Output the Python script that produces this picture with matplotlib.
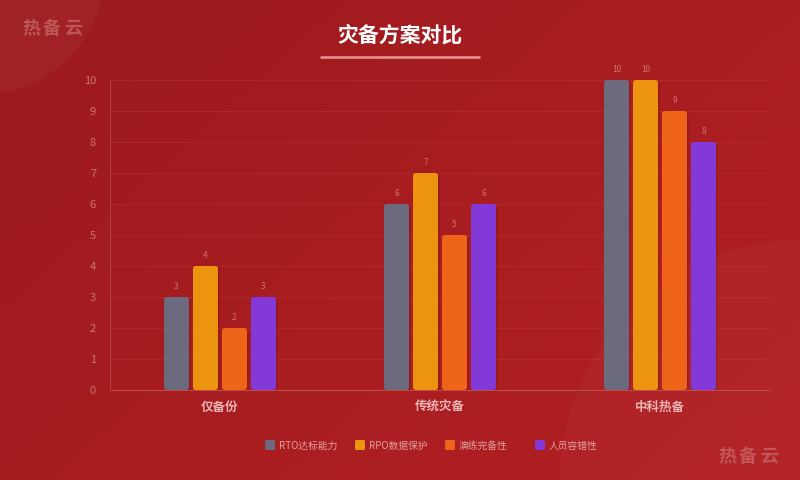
import numpy as np
import matplotlib.pyplot as plt
from matplotlib.patches import FancyBboxPatch, Circle

plt.rcParams['font.family'] = ['Noto Sans CJK SC', 'DejaVu Sans']

# Data
categories = ["仅备份", "传统灾备", "中科热备"]
series_names = ["RTO达标能力", "RPO数据保护", "演练完备性", "人员容错性"]
rto = [3, 6, 10]
rpo = [4, 7, 10]
drill = [2, 5, 9]
staff = [3, 6, 8]
series = [rto, rpo, drill, staff]
colors = ["#6C6A7E", "#EC9410", "#EE6419", "#8339D8"]

TICK_COL = "#CF7373"
LABEL_COL = "#E9B3B3"
MARK_COL = "#C86868"

fig = plt.figure(figsize=(8, 4.8), dpi=100)

# Background gradient
bg = fig.add_axes([0, 0, 1, 1])
yy, xx = np.mgrid[0:1:240j, 0:1:400j]
t = (xx * 0.6 + yy * 0.4)
c0 = np.array([0x9C, 0x1A, 0x1D]) / 255
c1 = np.array([0xB3, 0x20, 0x23]) / 255
img = c0[None, None, :] * (1 - t[..., None]) + c1[None, None, :] * t[..., None]
bg.imshow(img, extent=[0, 800, 480, 0], aspect='auto', origin='upper')
bg.add_patch(Circle((-20, -30), 125, color="white", alpha=0.04, lw=0))
bg.add_patch(Circle((800, 480), 240, color="white", alpha=0.025, lw=0))
bg.set_xlim(0, 800)
bg.set_ylim(480, 0)
bg.axis("off")

# Title and underline
bg.text(400, 35, "灾备方案对比", color="white", fontsize=15, fontweight="bold",
        ha="center", va="center")
bg.plot([320, 480], [57, 57], color="#E08A8A", lw=2, solid_capstyle="butt")

# Watermarks (spaced characters)
for cx, cy in [(52, 28), (748, 456)]:
    for k, ch in enumerate("热备云"):
        bg.text(cx + (k - 1) * 21, cy, ch, color=MARK_COL, fontsize=13,
                fontweight="bold", ha="center", va="center", alpha=0.75)

# Chart
ax = fig.add_axes([110 / 800, 90 / 480, 660 / 800, 310 / 480])
ax.patch.set_alpha(0)
ax.set_xlim(-0.5, 2.5)
ax.set_ylim(0, 10)

bar_w = 25 / 220
step = 29 / 220
x = np.arange(len(categories))
box = "round,pad=0,rounding_size=0.013"
for i, (vals, col) in enumerate(zip(series, colors)):
    offs = (i - 1.5) * step
    for xi, v in zip(x, vals):
        x0 = xi + offs - bar_w / 2
        # shadow
        ax.add_patch(FancyBboxPatch((x0 + 0.007, -0.06), bar_w, v,
                                    boxstyle=box, mutation_aspect=7,
                                    color="black", alpha=0.12, lw=0, zorder=2))
        ax.add_patch(FancyBboxPatch((x0, 0), bar_w, v,
                                    boxstyle=box, mutation_aspect=7,
                                    color=col, lw=0, zorder=3))
        ax.text(xi + offs, v + 0.18, str(v), color=TICK_COL, fontsize=6,
                ha="center", va="bottom", zorder=4)

ax.set_yticks(range(0, 11))
ax.grid(axis="y", color="#C04040", alpha=0.35, lw=0.8)
ax.set_axisbelow(True)
ax.set_xticks(x)
ax.set_xticklabels(categories, color=LABEL_COL, fontsize=9, fontweight="bold")
ax.tick_params(axis="x", length=0, pad=8)
ax.tick_params(axis="y", length=0, colors=TICK_COL, labelsize=8, pad=10)
for s in ["top", "right"]:
    ax.spines[s].set_visible(False)
ax.spines["left"].set_color("#B53E3E")
ax.spines["bottom"].set_color("#C14A4A")

# Legend
leg_x = [265, 355, 445, 535]
for lx, name, col in zip(leg_x, series_names, colors):
    bg.add_patch(FancyBboxPatch((lx, 440), 10, 10,
                                boxstyle="round,pad=0,rounding_size=1.5",
                                color=col, lw=0))
    bg.text(lx + 14, 446, name, color="#E2A0A0", fontsize=7,
            ha="left", va="center")

fig.savefig("out.png", dpi=100)
